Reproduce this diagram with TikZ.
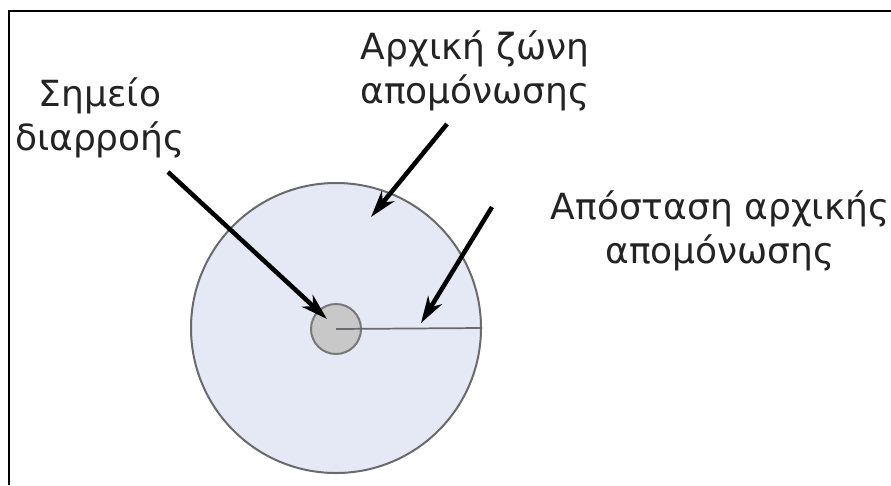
\documentclass[tikz,border=0pt]{standalone}
\usepackage{fontspec}
\setmainfont{DejaVu Sans}
\usetikzlibrary{arrows.meta}
\definecolor{zonefill}{RGB}{229,233,245}
\definecolor{zoneedge}{RGB}{105,105,110}
\definecolor{leakfill}{RGB}{200,200,200}
\definecolor{leakedge}{RGB}{120,120,120}
\definecolor{textcol}{RGB}{35,35,35}
\tikzset{
  lbl/.style={align=center, anchor=base, inner sep=0pt, text=textcol,
    font=\fontsize{27}{32.5}\selectfont},
  pointer/.style={line width=3.4pt, -{Stealth[length=20pt, width=12pt, inset=6pt]}},
  frameline/.style={line width=2.2pt, black},
}
\begin{document}
\begin{tikzpicture}[x=0.75pt, y=-0.75pt]
\useasboundingbox (0,0) rectangle (891,485);
\fill[white] (0,0) rectangle (891,485);
% partial frame
\coordinate (ftl) at (9,11);
\coordinate (ftr) at (891,11);
\coordinate (fbl) at (9,485);
\draw[frameline] (fbl) -- (ftl) -- (ftr);
% zones
\node[circle, draw=zoneedge, line width=1.5pt, fill=zonefill, minimum size=217.5pt, inner sep=0pt] (outer) at (336,328) {};
\node[circle, draw=leakedge, line width=1.5pt, fill=leakfill, minimum size=37.5pt, inner sep=0pt] (inner) at (336,329) {};
\draw[line width=1.3pt, zoneedge] (inner.center) -- (outer.east);
% labels (anchored at the baseline of the last line)
\node[lbl] (leak) at (100,150) {Σημείο\\διαρροής};
\node[lbl] (zone) at (475,103) {Αρχική ζώνη\\απομόνωσης};
\node[lbl] (dist) at (720,263) {Απόσταση αρχικής\\απομόνωσης};
% pointers
\coordinate (p1s) at (168,172);
\coordinate (p1e) at (327,319);
\coordinate (p2s) at (447,124);
\coordinate (p2e) at (371,217);
\coordinate (p3s) at (492,207);
\coordinate (p3e) at (421,323);
\draw[pointer] (p1s) -- (p1e);
\draw[pointer] (p2s) -- (p2e);
\draw[pointer] (p3s) -- (p3e);
\end{tikzpicture}
\end{document}
